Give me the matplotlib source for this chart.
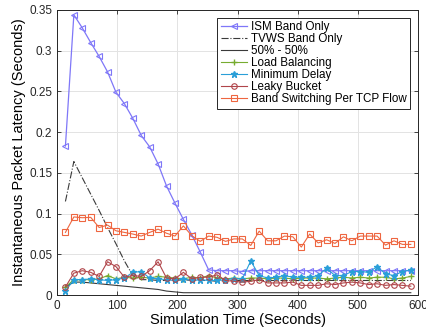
import matplotlib
matplotlib.use("Agg")
import matplotlib.pyplot as plt

plt.rcParams['font.family'] = ['Liberation Sans', 'DejaVu Sans']

# simulation time (s), one sample every 14 s
t = list(range(14, 589, 14))

ism = [0.183, 0.344, 0.328, 0.310, 0.293, 0.274, 0.249, 0.235, 0.217, 0.196,
       0.182, 0.161, 0.134, 0.113, 0.093, 0.074, 0.053, 0.031, 0.030, 0.030,
       0.030, 0.029, 0.030, 0.030, 0.030, 0.030, 0.030, 0.030, 0.030, 0.030,
       0.030, 0.030, 0.030, 0.030, 0.030, 0.030, 0.030, 0.030, 0.030, 0.030,
       0.030, 0.030]
tvws = [0.115, 0.164, 0.144, 0.124, 0.104, 0.083, 0.063, 0.042, 0.024, 0.019,
        0.019, 0.018, 0.018, 0.018, 0.019, 0.018, 0.018, 0.018, 0.017, 0.018,
        0.018, 0.018, 0.018, 0.018, 0.018, 0.018, 0.018, 0.018, 0.018, 0.018,
        0.018, 0.018, 0.018, 0.018, 0.018, 0.018, 0.018, 0.018, 0.018, 0.018,
        0.018, 0.018]
half = [0.010, 0.016, 0.016, 0.015, 0.014, 0.013, 0.012, 0.011, 0.010, 0.009,
        0.008, 0.007, 0.005, 0.004, 0.003, 0.003, 0.003, 0.003, 0.003, 0.003,
        0.003, 0.003, 0.003, 0.003, 0.003, 0.003, 0.003, 0.003, 0.003, 0.003,
        0.003, 0.003, 0.003, 0.003, 0.003, 0.003, 0.003, 0.003, 0.003, 0.003,
        0.003, 0.003]
load_bal = [0.010, 0.019, 0.019, 0.019, 0.020, 0.024, 0.020, 0.022, 0.021, 0.022,
            0.021, 0.023, 0.022, 0.021, 0.020, 0.022, 0.021, 0.024, 0.021, 0.020,
            0.021, 0.020, 0.021, 0.021, 0.020, 0.021, 0.021, 0.020, 0.021, 0.021,
            0.021, 0.020, 0.021, 0.022, 0.021, 0.022, 0.021, 0.022, 0.022, 0.020,
            0.021, 0.023]
min_delay = [0.005, 0.019, 0.019, 0.020, 0.019, 0.018, 0.019, 0.021, 0.028, 0.029,
             0.021, 0.020, 0.019, 0.018, 0.020, 0.018, 0.019, 0.018, 0.018, 0.019,
             0.020, 0.020, 0.042, 0.024, 0.021, 0.022, 0.024, 0.022, 0.022, 0.022,
             0.024, 0.033, 0.024, 0.024, 0.029, 0.029, 0.028, 0.035, 0.026, 0.024,
             0.029, 0.031]
leaky = [0.010, 0.027, 0.030, 0.028, 0.023, 0.041, 0.035, 0.022, 0.024, 0.023,
         0.030, 0.041, 0.021, 0.020, 0.028, 0.020, 0.022, 0.022, 0.025, 0.018,
         0.017, 0.016, 0.017, 0.019, 0.015, 0.015, 0.015, 0.016, 0.012, 0.012,
         0.012, 0.014, 0.013, 0.015, 0.016, 0.015, 0.013, 0.014, 0.012, 0.013,
         0.012, 0.011]
band_sw = [0.077, 0.096, 0.095, 0.0955, 0.083, 0.086, 0.079, 0.077, 0.075, 0.0725,
           0.077, 0.081, 0.076, 0.0725, 0.085, 0.073, 0.066, 0.0725, 0.071, 0.066,
           0.069, 0.069, 0.061, 0.0786, 0.0667, 0.0667, 0.0725, 0.0716, 0.059, 0.075,
           0.064, 0.068, 0.0635, 0.0716, 0.0667, 0.0725, 0.0725, 0.0725, 0.0614, 0.0667,
           0.0623, 0.0623]

fig = plt.figure(figsize=(4.27, 3.32), dpi=100)
ax = fig.add_axes([0.1335, 0.111, 0.8455, 0.859])

ax.plot(t, ism, color='#7f77f8', marker='<', ms=4.5, mfc='none', lw=0.9,
        mew=0.8, label='ISM Band Only')
ax.plot(t, tvws, color='#3a3a3a', ls='-.', lw=0.8, label='TVWS Band Only')
ax.plot(t, half, color='#3a3a3a', ls='-', lw=0.8, label='50% - 50%')
ax.plot(t, load_bal, color='#77ac30', marker='+', ms=4.5, lw=0.8,
        label='Load Balancing')
ax.plot(t, min_delay, color='#2a9fd8', marker='*', ms=4.5, lw=0.8,
        label='Minimum Delay')
ax.plot(t, leaky, color='#b0454a', marker='o', ms=4, mfc='none', lw=0.8,
        mew=0.8, label='Leaky Bucket')
ax.plot(t, band_sw, color='#ee6640', marker='s', ms=3.8, mfc='none', lw=0.8,
        mew=0.8, label='Band Switching Per TCP Flow')

ax.set_xlim(0, 600)
ax.set_ylim(0, 0.35)
ax.set_xticks([0, 100, 200, 300, 400, 500, 600])
ax.set_yticks([0, 0.05, 0.1, 0.15, 0.2, 0.25, 0.3, 0.35])
ax.set_yticklabels(['0', '0.05', '0.1', '0.15', '0.2', '0.25', '0.3', '0.35'])
ax.tick_params(direction='in', top=True, right=True, labelsize=8.5,
               length=3, width=0.6, colors='#262626')
ax.grid(True, color='#e3e3e3', lw=0.7)
ax.set_axisbelow(True)
for s in ax.spines.values():
    s.set_linewidth(0.7)
    s.set_color('#262626')

ax.set_xlabel('Simulation Time (Seconds)', fontsize=10.5, labelpad=1)
ax.set_ylabel('Instantaneous Packet Latency (Seconds)', fontsize=10.5, labelpad=2)

leg = ax.legend(loc='upper right', bbox_to_anchor=(0.978, 0.972), fontsize=8.4,
                fancybox=False, framealpha=1, edgecolor='#262626',
                handlelength=2.3, handletextpad=0.3, labelspacing=0.0,
                borderpad=0.3, borderaxespad=0)
leg.get_frame().set_linewidth(0.7)

fig.savefig('out.png', dpi=100)
